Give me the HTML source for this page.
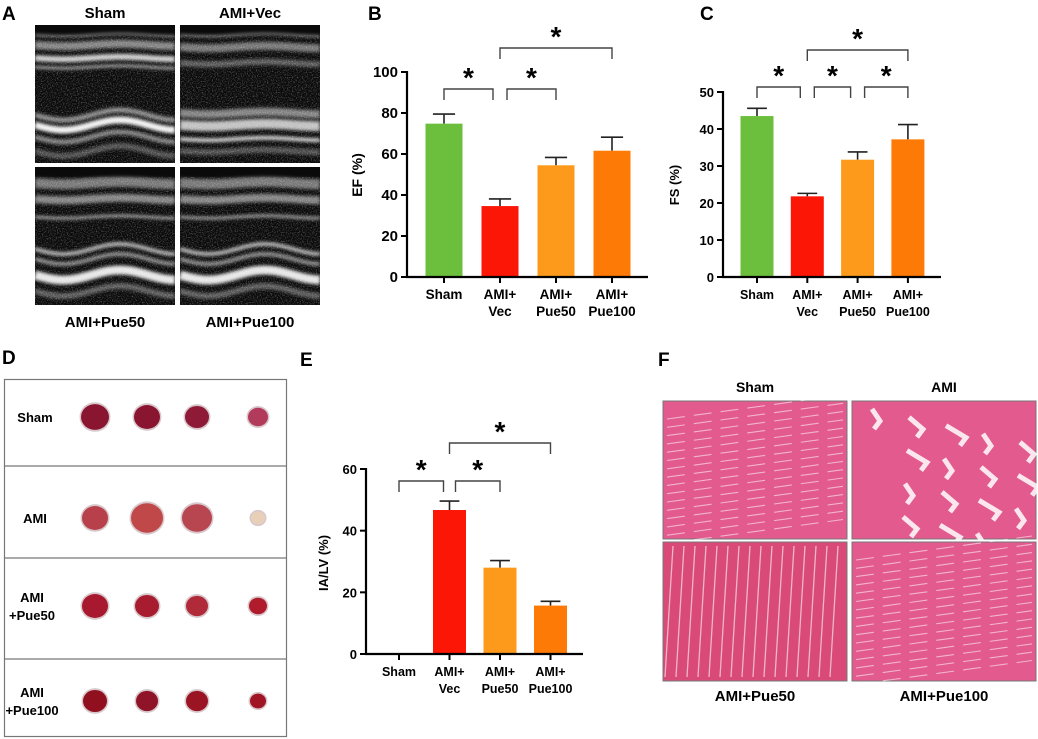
<!DOCTYPE html>
<html><head><meta charset="utf-8"><style>
body{margin:0;background:#fff;}
svg{display:block;font-family:"Liberation Sans",Arial,sans-serif;font-weight:bold;}
</style></head><body>
<svg id="fig" width="1038" height="739" viewBox="0 0 1038 739">
<defs>
<filter id="noise" x="0" y="0" width="1" height="1"><feTurbulence type="fractalNoise" baseFrequency="0.8" numOctaves="2" seed="3"/><feColorMatrix values="0 0 0 0 1  0 0 0 0 1  0 0 0 0 1  0 0 0 1.6 -0.75"/></filter>
<filter id="blur1"><feGaussianBlur stdDeviation="1.5"/></filter>
</defs>
<g font-size="19">
<text x="2" y="20">A</text>
<text x="368" y="20">B</text>
<text x="700" y="20">C</text>
<text x="2" y="364">D</text>
<text x="300" y="366">E</text>
<text x="658" y="366">F</text>
</g>
<g id="echo"></g>
<g id="hearts"></g>
<g id="histo"></g>
<g id="chartB"></g>
<g id="chartC"></g>
<g id="chartE"></g>
</svg>
<script>
const categories=["Sham","AMI+|Vec","AMI+|Pue50","AMI+|Pue100"];
const colors=["#6cbf3c","#fb1606","#fd9a1c","#fd7a06"];
const efValues=[74.8,34.6,54.5,61.6];
const efErrors=[79.5,38.1,58.3,68.2];
const efTicks=[0,20,40,60,80,100];
const fsValues=[43.5,21.8,31.7,37.2];
const fsErrors=[45.6,22.6,33.8,41.2];
const fsTicks=[0,10,20,30,40,50];
const iaValues=[0,46.7,28.0,15.7];
const iaErrors=[0,49.6,30.3,17.1];
const iaTicks=[0,20,40,60];
const efBrackets=[[0,1,0],[1,2,0],[1,3,1]];
const fsBrackets=[[0,1,0],[1,2,0],[2,3,0],[1,3,1]];
const iaBrackets=[[0,1,0],[1,2,0],[1,3,1]];
const NS="http://www.w3.org/2000/svg";
function mk(tag,attrs,parent,name){const e=document.createElementNS(NS,tag);for(const k in attrs)e.setAttribute(k,attrs[k]);


parent.appendChild(e);return e;}
function chart(id,cfg,values,errors,ticks,brackets){
  const g=document.getElementById(id);
  const max=ticks[ticks.length-1];
  const y=v=>cfg.y0-(cfg.y0-cfg.yTop)*v/max;
  const x=i=>cfg.x0+cfg.first+i*cfg.step;
  values.forEach((v,i)=>{
    if(v>0){
      mk('line',{x1:x(i),x2:x(i),y1:y(errors[i]),y2:y(v),stroke:'#222','stroke-width':1.6},g,'error-bar');
      mk('line',{x1:x(i)-cfg.bw*0.3,x2:x(i)+cfg.bw*0.3,y1:y(errors[i]),y2:y(errors[i]),stroke:'#222','stroke-width':1.6},g,'error-cap');
      mk('rect',{x:x(i)-cfg.bw/2,y:y(v),width:cfg.bw,height:cfg.y0-y(v),fill:colors[i]},g,'bar-'+i);
    }
  });
  mk('line',{x1:cfg.x0,x2:cfg.x0,y1:cfg.yTop-1,y2:cfg.y0+1,stroke:'#000','stroke-width':2.2},g,'y-axis');
  mk('line',{x1:cfg.x0-1,x2:cfg.xEnd,y1:cfg.y0,y2:cfg.y0,stroke:'#000','stroke-width':2.2},g,'x-axis');
  ticks.forEach(t=>{
    mk('line',{x1:cfg.x0-6,x2:cfg.x0,y1:y(t),y2:y(t),stroke:'#000','stroke-width':2},g,'y-tick');
    const tx=mk('text',{x:cfg.x0-9,y:y(t)+5,'text-anchor':'end','font-size':cfg.fs},g,'y-tick-label');tx.textContent=t;
  });
  categories.forEach((c,i)=>{
    mk('line',{x1:x(i),x2:x(i),y1:cfg.y0,y2:cfg.y0+6,stroke:'#000','stroke-width':2},g,'x-tick');
    c.split('|').forEach((p,j)=>{const t=mk('text',{x:x(i),y:cfg.y0+22+j*17,'text-anchor':'middle','font-size':cfg.xfs},g,'x-label');t.textContent=p;});
  });
  const yt=mk('text',{x:cfg.titleX,y:cfg.titleY,'text-anchor':'middle','font-size':cfg.tfs,transform:`rotate(-90 ${cfg.titleX} ${cfg.titleY})`},g,'y-axis-title');yt.textContent=cfg.title;
  brackets.forEach(b=>{
    const top=b[2]?cfg.brTop:cfg.brLow, d=11;
    const x1=b[2]?x(b[0]):x(b[0])+(b[0]===0?0:cfg.gap), x2=b[2]?x(b[1]):x(b[1])-(b[1]===1?cfg.gap:(b[1]===2&&brackets.length>3?cfg.gap:0));
    mk('path',{d:`M${x1} ${top+d}V${top}H${x2}V${top+d}`,fill:'none',stroke:'#444','stroke-width':1.4},g,'significance-bracket');
    const s=mk('text',{x:(x1+x2)/2,y:top-2,'text-anchor':'middle','font-size':28},g,'significance-star');s.textContent='*';
  });
}
chart('chartB',{x0:407,y0:277,yTop:72,xEnd:648,first:37,step:56,bw:37,fs:15,xfs:13.5,tfs:14,title:'EF (%)',titleX:362,titleY:175,brTop:48,brLow:89,gap:7},efValues,efErrors,efTicks,efBrackets);
chart('chartC',{x0:723,y0:277,yTop:92,xEnd:941,first:34,step:50.3,bw:33,fs:13,xfs:12.5,tfs:13,title:'FS (%)',titleX:679,titleY:185,brTop:50,brLow:87,gap:7},fsValues,fsErrors,fsTicks,fsBrackets);
chart('chartE',{x0:366,y0:654,yTop:469,xEnd:583,first:33,step:50.5,bw:33,fs:13,xfs:12.5,tfs:13,title:'IA/LV (%)',titleX:328,titleY:563,brTop:443,brLow:481,gap:6},iaValues,iaErrors,iaTicks,iaBrackets);

// Echo panel A
const echoLabels=["Sham","AMI+Vec","AMI+Pue50","AMI+Pue100"];
const eg=document.getElementById('echo');
[[35,25],[180,25],[35,167],[180,167]].forEach((p,i)=>{
  const [ex,ey]=p,w=140,h=138;
  mk('rect',{x:ex,y:ey,width:w,height:h,fill:'#0a0a0a'},eg,'echo-image-'+i);
  mk('rect',{x:ex,y:ey+10,width:w,height:h-10,fill:'#888',filter:'url(#noise)',opacity:0.55},eg,'echo-speckle');
  const g=mk('g',{filter:'url(#blur1)'},eg,'echo-traces');
  const bands=i===1?[[10,1.5,0.7],[22,8,0.45],[38,6,0.35],[88,8,0.5],[100,10,0.75],[114,4,0.8],[126,6,0.3]]:(i===0?[[10,1.5,0.7],[20,8,0.5],[33,6,0.8],[42,3,0.6],[90,5,0.55],[100,7,0.95],[112,5,0.5],[126,6,0.3]]:[[16,10,0.45],[32,8,0.5],[50,3,0.6],[82,4,0.7],[92,4,0.55],[108,9,0.9],[124,6,0.35]]);
  bands.forEach(b=>{
    let d=`M${ex} ${ey+b[0]}`;
    for(let k=0;k<=w;k+=4){const amp=(b[0]>60&&i!==1)?5:1.2;d+=`L${ex+k} ${ey+b[0]+amp*Math.sin(k/18)}`;}
    mk('path',{d,stroke:'#fff','stroke-opacity':b[2],'stroke-width':b[1],fill:'none'},g,'echo-band');
  });
  const lb=mk('text',{x:ex+w/2,y:i<2?ey-7:ey+h+22,'text-anchor':'middle','font-size':15},eg,'echo-label');lb.textContent=echoLabels[i];
});

// Hearts panel D
const hg=document.getElementById('hearts');
mk('rect',{x:4.5,y:379.5,width:282,height:357,fill:'#fff',stroke:'#777','stroke-width':1.2},hg,'heart-box');
[466,558,659].forEach(yy=>mk('line',{x1:4,x2:286,y1:yy,y2:yy,stroke:'#777','stroke-width':1.2},hg,'row-divider'));
const rowLabels=[["Sham"],["AMI"],["AMI","+Pue50"],["AMI","+Pue100"]];
const rowY=[417,518,606,701];
const heartFill=[["#8a1530","#8a1530","#8e1a38","#b23a5a"],["#b8404a","#c04848","#b84650","#e8d0b8"],["#a8182e","#a81c30","#b02a3a","#b01c2c"],["#901020","#901428","#9a1424","#a01424"]];
const heartR=[[14,13,12,10],[13,16,15,7],[13,12,11,9],[12,11,11,8]];
rowY.forEach((yy,r)=>{
  rowLabels[r].forEach((t,j)=>{const tx=mk('text',{x:r<2?35:32,y:yy+5-(rowLabels[r].length-1)*9+j*18,'text-anchor':'middle','font-size':13},hg,'row-label');tx.textContent=t;});
  [95,147,197,258].forEach((cx,k)=>{
    mk('ellipse',{cx:cx,cy:yy,rx:heartR[r][k]+1.5,ry:heartR[r][k]*0.95+1.5,fill:'#d8c8cc'},hg,'heart-rim');
    mk('ellipse',{cx:cx,cy:yy,rx:heartR[r][k],ry:heartR[r][k]*0.92,fill:heartFill[r][k]},hg,'heart-slice');
  });
});

// Histology panel F
const fg=document.getElementById('histo');
const histoLabels=["Sham","AMI","AMI+Pue50","AMI+Pue100"];
[[663,401],[852,401],[663,542],[852,542]].forEach((p,i)=>{
  const [hx,hy]=p,w=184,h=i<2?138:139;
  mk('rect',{x:hx,y:hy,width:w,height:h,fill:i===2?'#d94a78':'#e25a8e',stroke:'#777','stroke-width':1},fg,'histology-image-'+i);
  const g=mk('g',{},fg,'tissue-streaks');
  for(let k=0;k<16;k++){
    const sy=hy+8+k*8.3;
    if(i===1){
      mk('path',{d:`M${hx+20+(k*37)%150} ${sy} l${8+(k%3)*6} ${12} l${-6} ${8}`,stroke:'#fff','stroke-width':5,fill:'none','stroke-opacity':0.85},g,'tissue-gap');
    }else if(i===2){
      mk('line',{x1:hx+10+k*11,y1:hy+4,x2:hx+k*11+2,y2:hy+h-4,stroke:'#fff','stroke-width':1.3,'stroke-opacity':0.6},g,'fiber-line');
    }else{
      mk('line',{x1:hx+4,y1:sy+10,x2:hx+w-4,y2:sy-14,stroke:'#fff','stroke-width':1.1,'stroke-opacity':0.55,'stroke-dasharray':'18 9'},g,'fiber-line');
    }
  }
  const lb=mk('text',{x:hx+w/2,y:i<2?hy-9:hy+h+20,'text-anchor':'middle','font-size':i<2?14:15},fg,'histology-label');lb.textContent=histoLabels[i];
});
</script>
</body></html>
